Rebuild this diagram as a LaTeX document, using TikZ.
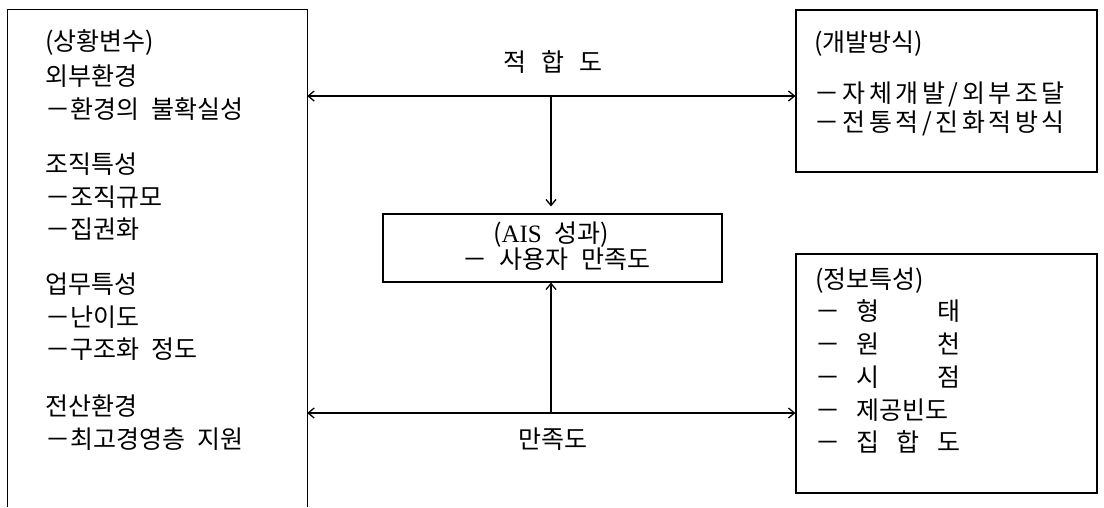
\documentclass[tikz,border=0pt]{standalone}
\usepackage{fontspec}
\setmainfont{Noto Sans CJK KR}
\newfontfamily\latinserif{Liberation Serif}
\newfontfamily\widekr[LetterSpace=14]{Noto Sans CJK KR}
\usetikzlibrary{arrows.meta}
\newcommand\ksp{\hspace{0.5em}}
\begin{document}
\begin{tikzpicture}[x=1pt,y=-1pt,
  txt/.style={inner sep=0pt, anchor=west, text height=0.88em, text depth=0.12em, font=\fontsize{25}{30}\selectfont},
  wtxt/.style={txt, font=\fontsize{25}{30}\widekr},
  lbl/.style={inner sep=0pt, anchor=center, text height=0.88em, text depth=0.12em, font=\fontsize{25}{30}\selectfont},
  box/.style={draw, line width=1.1pt, rectangle, inner sep=0pt},
  conn/.style={line width=1.3pt},
  >={Straight Barb[length=6pt,width=10pt]},
]
\useasboundingbox (0,0) rectangle (1104,507);

% boxes
\node[inner sep=0pt, minimum width=299pt, minimum height=497pt] (ctx) at (157.5,258.5) {};
\draw[line width=1.1pt] (ctx.south west) -- (ctx.north west) -- (ctx.north east) -- (ctx.south east);
\node[box, minimum width=301pt, minimum height=162pt] (dev) at (946.5,91) {};
\node[box, minimum width=301pt, minimum height=239pt] (info) at (946.5,373.5) {};
\node[box, minimum width=339pt, minimum height=68pt] (ais) at (552.5,248) {};

% left box text
\node[txt] (c0) at (45,47) {(상황변수)};
\node[txt] (c1) at (45,82) {외부환경};
\node[txt] (c2) at (45,115) {－환경의\ksp 불확실성};
\node[txt] (c3) at (45,170) {조직특성};
\node[txt] (c4) at (45,203) {－조직규모};
\node[txt] (c5) at (45,235) {－집권화};
\node[txt] (c6) at (45,290) {업무특성};
\node[txt] (c7) at (45,323) {－난이도};
\node[txt] (c8) at (45,355) {－구조화\ksp 정도};
\node[txt] (c9) at (45,412) {전산환경};
\node[txt] (c10) at (45,445) {－최고경영층\ksp 지원};

% development box text
\node[txt] (d0) at (814,48) {(개발방식)};
\node[wtxt] (d1) at (814,99) {－자체개발/외부조달};
\node[wtxt] (d2) at (814,128) {－전통적/진화적방식};

% information box text
\node[txt] (i0) at (815,285) {(정보특성)};
\node[txt] (i1a) at (815,317) {－};
\node[txt] (i1) at (856,317) {\hbox to 104pt{형\hfill 태}};
\node[txt] (i2a) at (815,350) {－};
\node[txt] (i2) at (856,350) {\hbox to 104pt{원\hfill 천}};
\node[txt] (i3a) at (815,383) {－};
\node[txt] (i3) at (856,383) {\hbox to 104pt{시\hfill 점}};
\node[txt] (i4a) at (815,416) {－};
\node[txt] (i4) at (856,416) {\hbox to 104pt{제공빈도}};
\node[txt] (i5a) at (815,448) {－};
\node[txt] (i5) at (856,448) {\hbox to 104pt{집\hfill 합\hfill 도}};

% AIS box text
\node[lbl] (a0) at (551,239) {({\latinserif AIS}\ksp 성과)};
\node[txt] (a1) at (462,265) {－\ksp 사용자\ksp 만족도};

% labels
\node[lbl] (fit) at (553,68) {적\hspace{0.6em}합\hspace{0.6em}도};
\node[lbl] (sat) at (553,445) {만족도};

% connectors
\coordinate (j1) at (551,96);
\coordinate (j2) at (551,413);
\draw[conn,<->] (ctx.east |- j1) -- (dev.west |- j1);
\draw[conn,->,shorten >=7pt] (j1) -- (j1 |- ais.north);
\draw[conn,<->] (ctx.east |- j2) -- (info.west |- j2);
\draw[conn,->] (j2) -- (j2 |- ais.south);
\end{tikzpicture}
\end{document}
